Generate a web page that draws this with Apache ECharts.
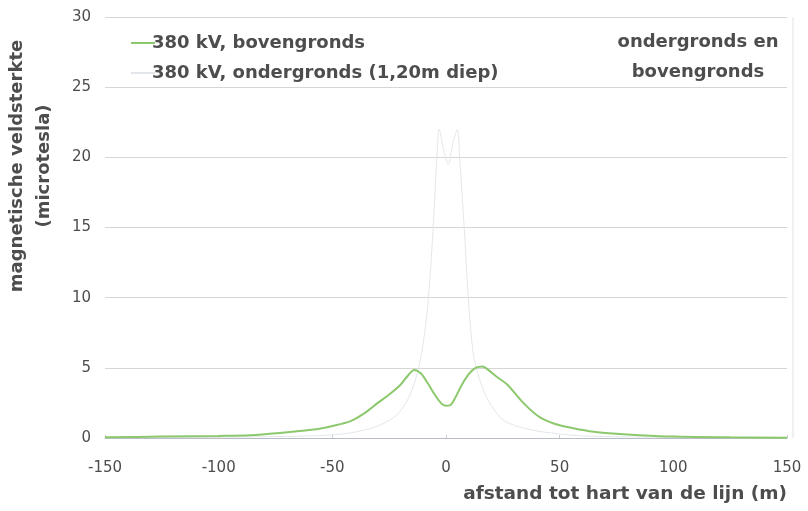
<!DOCTYPE html>
<html>
<head>
<meta charset="utf-8">
<script src="https://cdn.jsdelivr.net/npm/echarts@6/dist/echarts.min.js"></script>
<style>
  html, body { margin: 0; padding: 0; background: #fff; }
  #chart { width: 808px; height: 511px; }
</style>
</head>
<body>
<div id="chart"></div>
<script>
  // afstand (m) en veldsterkte (microtesla)
  var distBoven = [-150, -125, -100, -86, -72, -57, -50, -42, -36, -30, -25, -20, -17, -14, -11, -8, -5, -2, 0, 2, 4, 7, 10, 13, 16, 19, 22, 27, 34, 41, 48, 56, 65, 75, 85, 100, 125, 150]
  var veldBoven = [0.05, 0.1, 0.15, 0.2, 0.38, 0.62, 0.85, 1.2, 1.75, 2.5, 3.1, 3.8, 4.4, 4.85, 4.6, 3.9, 3.1, 2.45, 2.3, 2.35, 2.85, 3.8, 4.55, 5.0, 5.1, 4.8, 4.4, 3.8, 2.5, 1.5, 1.0, 0.7, 0.45, 0.3, 0.2, 0.1, 0.05, 0.02]

  var distOnder = [-150, -100, -60, -45, -35, -28, -22, -18, -15, -12, -10, -8, -6, -4, -3, -1, 1, 3, 5, 6, 8, 10, 12, 14, 17, 20, 25, 32, 42, 60, 100, 150]
  var veldOnder = [0.02, 0.05, 0.15, 0.3, 0.6, 1.0, 1.6, 2.4, 3.4, 5, 6.8, 9.5, 14, 20, 22, 20.5, 19.5, 21, 22, 20, 15, 9.5, 6, 4.6, 3.2, 2.3, 1.3, 0.8, 0.45, 0.15, 0.05, 0.02]

  var seriesNames = ['380 kV, bovengronds', '380 kV, ondergronds (1,20m diep)']

  function pairs(xs, ys) {
    var out = []
    for (var i = 0; i < xs.length; i++) {
      out.push([xs[i], ys[i]])
    }
    return out
  }

  var font = 'DejaVu Sans'
  var textColor = '#4d4d4d'
  var chart = echarts.init(document.getElementById('chart'))

  var option = {
    backgroundColor: '#fff',
    animation: false,
    grid: {
      left: 105,
      right: 21,
      top: 17,
      bottom: 73
    },
    legend: {
      orient: 'vertical',
      left: 126,
      top: 29,
      itemGap: 12,
      itemWidth: 24,
      itemHeight: 2,
      icon: 'rect',
      textStyle: {
        fontFamily: font,
        fontSize: 18,
        fontWeight: 'bold',
        color: textColor,
        padding: [0, 0, 0, -8]
      },
      data: seriesNames
    },
    xAxis: {
      type: 'value',
      min: -150,
      max: 150,
      interval: 50,
      axisLine: { lineStyle: { color: '#b8bcc6' } },
      axisTick: { show: true, length: 3, inside: true, lineStyle: { color: '#c8ccd4' } },
      splitLine: { show: false },
      axisLabel: {
        margin: 23,
        fontFamily: font,
        fontSize: 15,
        color: textColor
      }
    },
    yAxis: {
      type: 'value',
      min: 0,
      max: 30,
      interval: 5,
      axisLine: { show: false },
      axisTick: { show: false },
      splitLine: { lineStyle: { color: '#d6d6d6', width: 1 } },
      axisLabel: {
        margin: 14,
        fontFamily: font,
        fontSize: 15,
        color: textColor
      }
    },
    graphic: [
      {
        type: 'text',
        x: 31,
        y: 166,
        rotation: Math.PI / 2,
        style: {
          text: 'magnetische veldsterkte\n(microtesla)',
          font: 'bold 18px "DejaVu Sans"',
          fill: textColor,
          align: 'center',
          verticalAlign: 'middle',
          lineHeight: 27
        }
      },
      {
        type: 'text',
        x: 787,
        y: 494,
        style: {
          text: 'afstand tot hart van de lijn (m)',
          font: 'bold 18.5px "DejaVu Sans"',
          fill: textColor,
          align: 'right',
          verticalAlign: 'middle'
        }
      },
      {
        type: 'text',
        x: 698,
        y: 57,
        style: {
          text: 'ondergronds en\nbovengronds',
          font: 'bold 18px "DejaVu Sans"',
          fill: textColor,
          align: 'center',
          verticalAlign: 'middle',
          lineHeight: 30
        }
      },
      {
        type: 'line',
        shape: { x1: 793, y1: 17, x2: 793, y2: 438 },
        style: { stroke: '#e2e2e2', lineWidth: 1 }
      }
    ],
    series: [
      {
        name: seriesNames[0],
        type: 'line',
        smooth: 0.3,
        showSymbol: false,
        z: 3,
        lineStyle: { color: '#8cc86c', width: 2 },
        itemStyle: { color: '#8cc86c' },
        data: pairs(distBoven, veldBoven)
      },
      {
        name: seriesNames[1],
        type: 'line',
        smooth: 0.3,
        showSymbol: false,
        z: 2,
        lineStyle: { color: '#e3e6eb', width: 1 },
        itemStyle: { color: '#e3e6eb' },
        data: pairs(distOnder, veldOnder)
      }
    ]
  }

  chart.setOption(option)
</script>
</body>
</html>
